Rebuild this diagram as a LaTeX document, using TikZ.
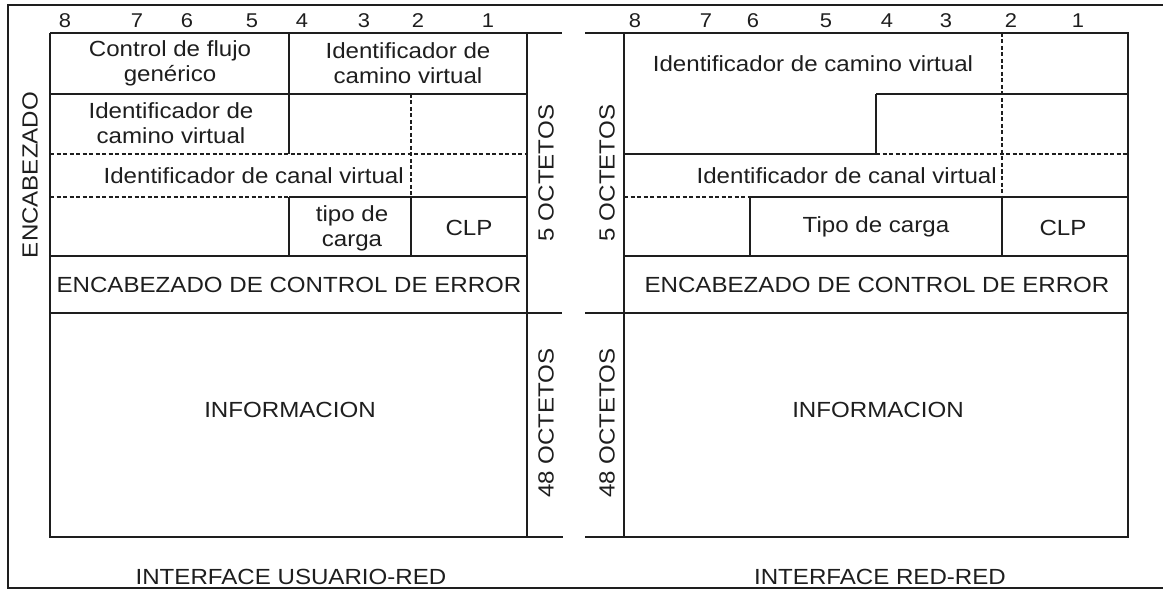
\documentclass[tikz,border=0pt]{standalone}
\usepackage{fontspec}
\setmainfont{Liberation Sans}[FakeStretch=1.1]
\definecolor{ink}{HTML}{1E1E1E}
\begin{document}
\begin{tikzpicture}[x=1bp,y=-1bp,
  ln/.style={line width=1.5bp, draw=ink},
  dl/.style={ln, dash pattern=on 4bp off 2.5bp},
  txt/.style={font=\fontsize{22}{25}\selectfont, text=ink, inner sep=0pt, align=center},
  num/.style={font=\fontsize{20}{22}\selectfont, text=ink, inner sep=0pt},
  vtxt/.style={txt, rotate=90}]
\useasboundingbox (0,0) rectangle (1163,590);
% outer frame
\draw[ln] (1163,5) -- (8,5) -- (8,588) -- (1163,588);
% ---------- left table ----------
\draw[ln] (50,33) -- (562,33);
\draw[ln] (50,33) -- (50,537) -- (563,537);
\draw[ln] (527,33) -- (527,537);
\draw[ln] (50,313) -- (562,313);
\draw[ln] (50,256) -- (527,256);
\draw[ln] (50,94) -- (527,94);
\draw[ln] (289,33) -- (289,154);
\draw[dl] (50,154) -- (527,154);
\draw[dl] (411,94) -- (411,197);
\draw[dl] (50,197) -- (289,197);
\draw[ln] (289,197) -- (527,197);
\draw[ln] (289,197) -- (289,256);
\draw[ln] (411,197) -- (411,256);
% ---------- right table ----------
\draw[ln] (585,33) -- (1128,33) -- (1128,537) -- (585,537);
\draw[ln] (624,33) -- (624,537);
\draw[ln] (585,313) -- (1128,313);
\draw[ln] (624,256) -- (1128,256);
\draw[ln] (876,94) -- (1128,94);
\draw[ln] (876,94) -- (876,154) -- (624,154);
\draw[dl] (876,154) -- (1128,154);
\draw[dl] (1002,33) -- (1002,197);
\draw[dl] (624,197) -- (750,197);
\draw[ln] (750,197) -- (1128,197);
\draw[ln] (750,197) -- (750,256);
\draw[ln] (1002,197) -- (1002,256);
% ---------- bit numbers ----------
\foreach \x/\d [count=\i] in {65/8,137/7,187/6,252/5,302/4,364/3,418/2,488/1}
  \node[num] (la\i) at (\x,21) {\d};
\foreach \x/\d [count=\i] in {635/8,706/7,753/6,826/5,887/4,946/3,1011/2,1078/1}
  \node[num] (rb\i) at (\x,21) {\d};
% ---------- left texts ----------
\node[txt] (cfg) at (170,63) {Control de flujo\\genérico};
\node[txt] (vpia) at (408,63) {Identificador de\\camino virtual};
\node[txt] (vpib) at (171,123) {Identificador de\\camino virtual};
\node[txt, anchor=east] (vcia) at (404,176) {Identificador de canal virtual};
\node[txt] (pta) at (352,228) {tipo de\\carga};
\node[txt] (clpa) at (469,228) {CLP};
\node[txt] (heca) at (289,285) {ENCABEZADO DE CONTROL DE ERROR};
\node[txt] (infa) at (290,410) {INFORMACION};
\node[vtxt] (o5a) at (546,173) {5 OCTETOS};
\node[vtxt] (o48a) at (546,423) {48 OCTETOS};
\node[vtxt] (enc) at (30,175) {ENCABEZADO};
\node[txt] (iur) at (291,577) {INTERFACE USUARIO-RED};
% ---------- right texts ----------
\node[txt] (vpic) at (813,64) {Identificador de camino virtual};
\node[txt, anchor=east] (vcib) at (997,176) {Identificador de canal virtual};
\node[txt] (ptb) at (876,227) {Tipo de carga};
\node[txt] (clpb) at (1063,228) {CLP};
\node[txt] (hecb) at (877,285) {ENCABEZADO DE CONTROL DE ERROR};
\node[txt] (infb) at (878,410) {INFORMACION};
\node[vtxt] (o5b) at (607,173) {5 OCTETOS};
\node[vtxt] (o48b) at (607,423) {48 OCTETOS};
\node[txt] (irr) at (880,577) {INTERFACE RED-RED};
\end{tikzpicture}
\end{document}
